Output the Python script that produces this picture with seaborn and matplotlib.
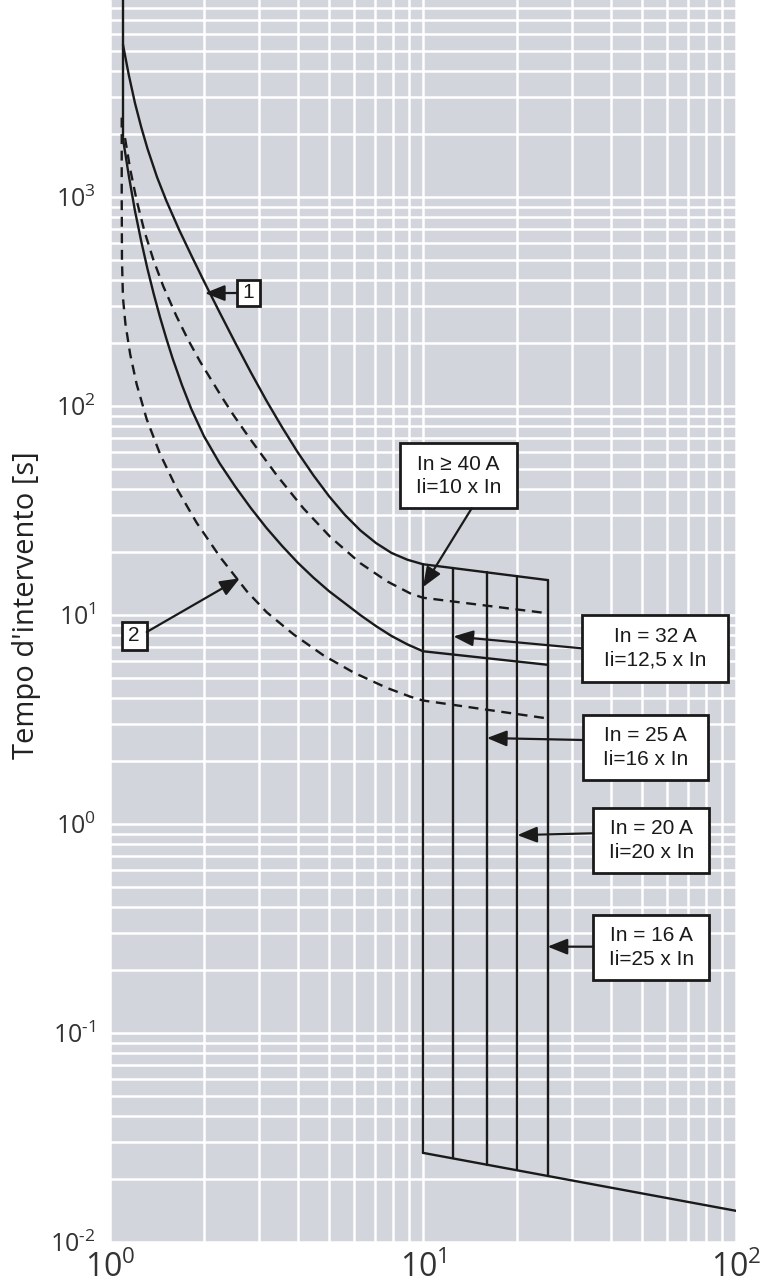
import numpy as np
import matplotlib
matplotlib.use("Agg")
import matplotlib.pyplot as plt
import matplotlib.ticker as mticker
from matplotlib.patches import Rectangle
import seaborn as sns

# ---- Trip characteristic: multiples of In (x) vs. trip time in seconds (y) ----
# non-tripping limit
limit_x = [1.10, 1.10]
limit_t = [9000, 1905]

# curve 1, upper band (solid)
cold_max_x = [1.10, 1.148, 1.202, 1.259, 1.318, 1.413, 1.514, 1.660, 1.820, 1.995,
              2.239, 2.512, 2.818, 3.162, 3.548, 3.981, 4.467, 5.012, 5.623, 6.310,
              7.079, 7.943, 8.913, 10.0, 25.0]
cold_max_t = [5370, 3846, 2812, 2153, 1702, 1247, 959, 701, 525, 396,
              281, 201, 145, 106, 79.1, 60.0, 46.6, 37.0, 30.2, 25.4,
              22.1, 19.8, 18.4, 17.5, 14.7]

# curve 1, lower band (solid)
cold_min_x = [1.10, 1.148, 1.202, 1.259, 1.318, 1.380, 1.445, 1.514, 1.585, 1.698,
              1.820, 1.995, 2.239, 2.512, 2.818, 3.162, 3.548, 3.981, 4.467, 5.012,
              5.623, 6.310, 7.079, 7.943, 8.913, 10.0, 25.0]
cold_min_t = [1905, 1268, 857, 612, 452, 343, 266, 210, 169, 126,
              96.6, 71.9, 53.3, 41.2, 32.5, 26.1, 21.4, 17.8, 15.1, 13.0,
              11.4, 9.99, 8.85, 7.93, 7.24, 6.71, 5.78]

# curve 2, upper band (dashed)
hot_max_x = [1.117, 1.161, 1.217, 1.288, 1.376, 1.479, 1.629, 1.778, 1.941, 2.280,
             2.477, 2.799, 3.412, 4.150, 5.047, 6.310, 7.674, 9.099, 10.0, 25.0]
hot_max_t = [1915, 1352, 962, 687, 501, 375, 270, 207, 163, 110,
             90.8, 69.8, 46.6, 32.4, 23.7, 17.7, 14.5, 12.7, 12.1, 10.2]

# curve 2, lower band (dashed)
hot_min_x = [1.09, 1.09, 1.092, 1.10, 1.120, 1.160, 1.217, 1.310, 1.445, 1.630,
             1.890, 2.250, 2.740, 3.170, 3.860, 4.810, 6.000, 7.670, 9.100, 10.0, 25.0]
hot_min_t = [2400, 1000, 500, 330, 248, 177, 127, 86.5, 59.0, 40.6,
             27.7, 18.9, 12.96, 10.3, 8.08, 6.41, 5.31, 4.48, 4.07, 3.90, 3.2]

# instantaneous (magnetic) release
inst_x = [10, 100]
inst_t = [0.0267, 0.0141]

# magnetic thresholds Ii / In and their labels
trip_multiples = [10, 12.5, 16, 20, 25]
trip_labels = ["In \u2265 40 A\nIi=10 x In",
               "In = 32 A\nIi=12,5 x In",
               "In = 25 A\nIi=16 x In",
               "In = 20 A\nIi=20 x In",
               "In = 16 A\nIi=25 x In"]
trip_arrow_t = [13.6, 7.9, 2.58, 0.885, 0.259]

x_ticks = [1, 10, 100]
y_ticks = [0.01, 0.1, 1, 10, 100, 1000]
y_label = "Tempo d'intervento [s]"

# ---- styling ----
sns.set_theme(style="darkgrid")
plt.rcParams.update({
    "font.family": ["Open Sans", "DejaVu Sans"],
    "mathtext.fontset": "custom",
    "mathtext.rm": "Open Sans",
    "mathtext.it": "Open Sans:italic",
    "mathtext.bf": "Open Sans:bold",
})

W, H = 762, 1285
AX_L, AX_R, AX_T, AX_B = 110, 736, 0, 1242
fig = plt.figure(figsize=(W / 100, H / 100), dpi=100)
fig.patch.set_facecolor("white")
ax = fig.add_axes([AX_L / W, 1 - AX_B / H, (AX_R - AX_L) / W, (AX_B - AX_T) / H])
ax.set_facecolor("#d3d5dd")
for s in ax.spines.values():
    s.set_visible(False)

ax.set_xscale("log")
ax.set_yscale("log")
ax.set_xlim(1, 100)
ax.set_ylim(0.01, 8770)


def power_label(v, pos):
    e = int(round(np.log10(v)))
    sign = "\u2010" if e < 0 else ""
    return r"$\mathrm{10^{%s%d}}$" % (sign, abs(e))


ax.xaxis.set_major_locator(mticker.FixedLocator(x_ticks))
ax.yaxis.set_major_locator(mticker.FixedLocator(y_ticks))
ax.xaxis.set_minor_locator(mticker.LogLocator(base=10, subs=np.arange(2, 10), numticks=50))
ax.yaxis.set_minor_locator(mticker.LogLocator(base=10, subs=np.arange(2, 10), numticks=50))
ax.xaxis.set_major_formatter(mticker.FuncFormatter(power_label))
ax.yaxis.set_major_formatter(mticker.FuncFormatter(power_label))
ax.xaxis.set_minor_formatter(mticker.NullFormatter())
ax.yaxis.set_minor_formatter(mticker.NullFormatter())
ax.tick_params(which="both", length=0)
ax.tick_params(axis="x", labelsize=23, pad=7, colors="#333333")
ax.tick_params(axis="y", labelsize=18, pad=10, colors="#333333")
ax.grid(True, which="both", color="white", lw=1.8)
ax.set_axisbelow(True)

fig.text(27 / W, 1 - 605 / H, y_label, rotation=90, ha="center", va="center",
         fontsize=21, color="#222222")

# ---- curves ----
LW = 1.7
dash = (0, (4.2, 2.8))
line_kw = dict(ax=ax, color="#1a1a1a", sort=False, estimator=None, legend=False)
sns.lineplot(x=limit_x, y=limit_t, lw=LW, **line_kw)
sns.lineplot(x=cold_max_x, y=cold_max_t, lw=LW, **line_kw)
sns.lineplot(x=cold_min_x, y=cold_min_t, lw=LW, **line_kw)
sns.lineplot(x=hot_max_x, y=hot_max_t, lw=LW, linestyle=dash, **line_kw)
sns.lineplot(x=hot_min_x, y=hot_min_t, lw=LW, linestyle=dash, **line_kw)
sns.lineplot(x=inst_x, y=inst_t, lw=LW, **line_kw)

# vertical magnetic thresholds: from the upper band down to the instantaneous line
lx_band = np.log10(cold_max_x)
lt_band = np.log10(cold_max_t)
slope = np.log10(inst_t[1] / inst_t[0]) / np.log10(inst_x[1] / inst_x[0])
for m in trip_multiples:
    top = 10 ** np.interp(np.log10(m), lx_band, lt_band)
    bottom = inst_t[0] * (m / inst_x[0]) ** slope
    sns.lineplot(x=[m, m], y=[top, bottom], lw=LW, **line_kw)


# ---- annotation boxes ----
def frac(px, py):
    return (px - AX_L) / (AX_R - AX_L), (AX_B - py) / (AX_B - AX_T)


def label_box(x0, y0, x1, y1, text, size):
    fx0, fy1 = frac(x0, y1)
    fx1, fy0 = frac(x1, y0)
    ax.add_patch(Rectangle((fx0, fy1), fx1 - fx0, fy0 - fy1, transform=ax.transAxes,
                           facecolor="white", edgecolor="#1a1a1a", lw=2.0,
                           zorder=6, clip_on=False))
    ax.text((fx0 + fx1) / 2, (fy0 + fy1) / 2, text, transform=ax.transAxes,
            ha="center", va="center", fontsize=size, linespacing=1.3,
            family=["Liberation Sans", "DejaVu Sans"],
            color="#1a1a1a", zorder=7)


def arrow(tail_px, tip):
    ax.annotate("", xy=tip, xycoords="data", xytext=frac(*tail_px),
                textcoords="axes fraction",
                arrowprops=dict(arrowstyle="-|>,head_length=0.6,head_width=0.24",
                                color="#1a1a1a", lw=1.6, shrinkA=0, shrinkB=0,
                                mutation_scale=20), zorder=8)


# curve markers "1" and "2"
label_box(236.7, 280, 260, 306, "1", 15)
arrow((236.7, 293), (2.01, 347))
label_box(121.7, 621.7, 146.7, 650, "2", 15)
arrow((146.7, 632), (2.60, 15.0))

boxes = [(400, 443.3, 516.7, 508.3), (581.7, 615, 728.3, 681.7),
         (583, 715, 708, 780), (593.3, 808.3, 709.3, 872.7),
         (593.3, 915, 709.3, 980)]
tails = [(471.7, 508.3), (581.7, 648.3), (583, 740), (593.3, 833.3), (593.3, 946.7)]
for box, tail, txt, m, t in zip(boxes, tails, trip_labels, trip_multiples, trip_arrow_t):
    label_box(*box, txt, 15)
    arrow(tail, (m, t))

fig.savefig("out.png", dpi=100, facecolor="white")
